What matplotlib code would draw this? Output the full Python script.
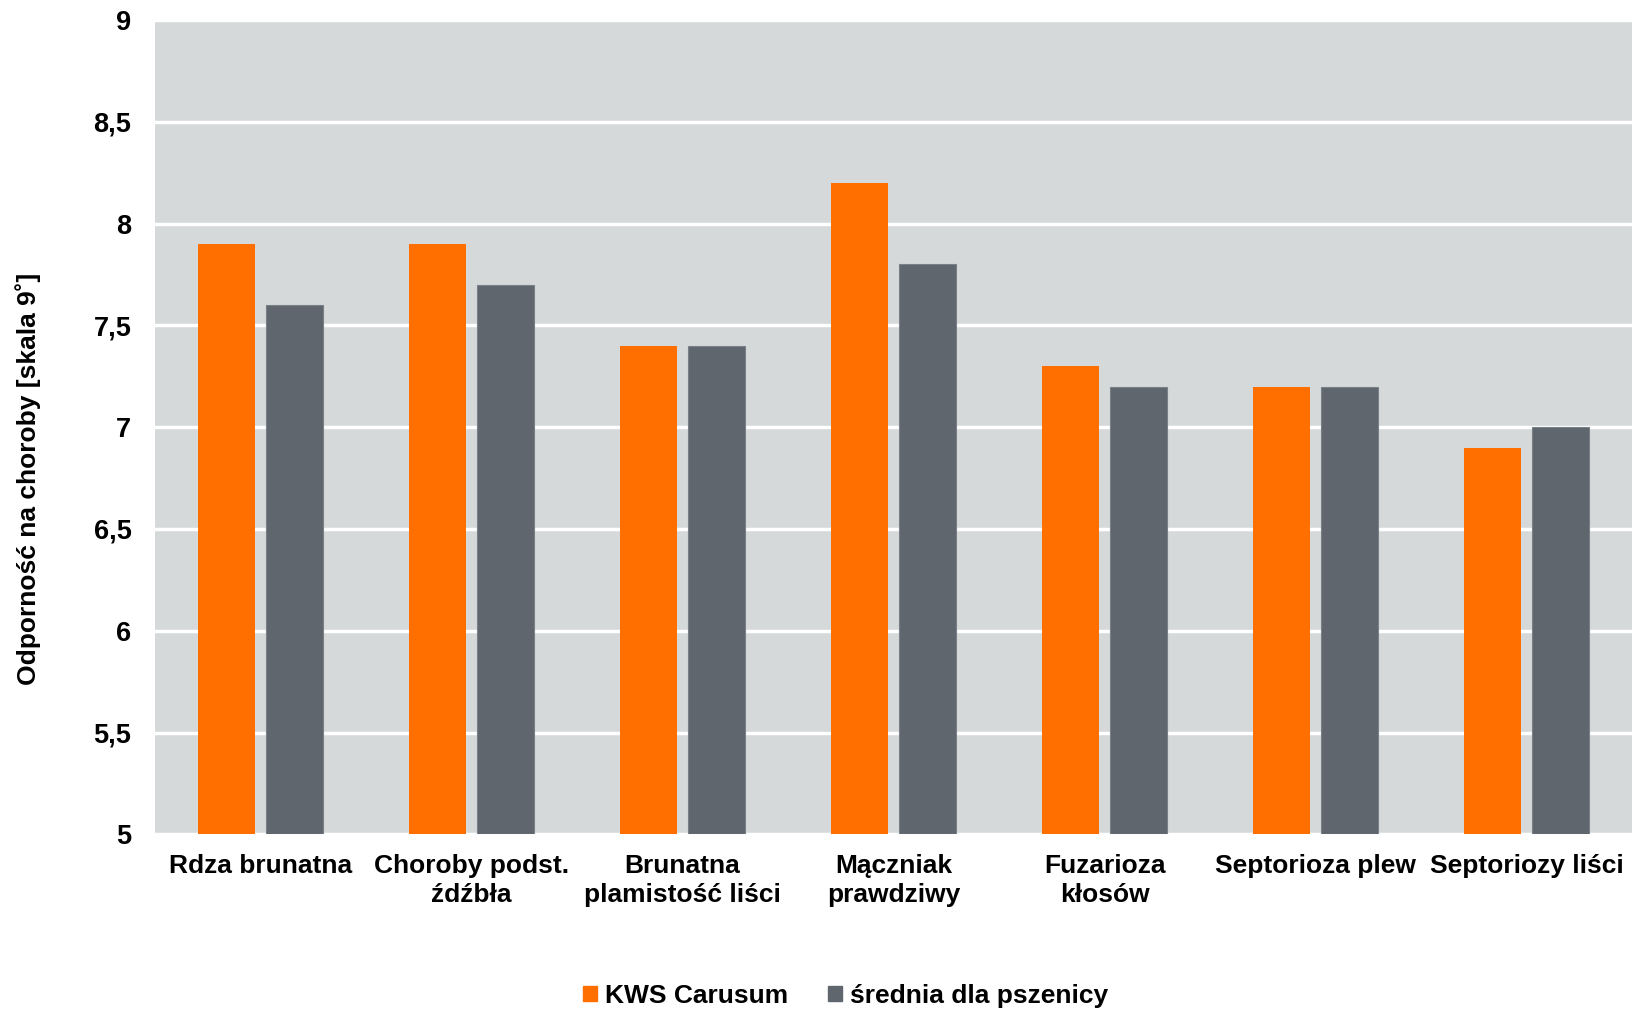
import numpy as np
import matplotlib.pyplot as plt
from matplotlib.patches import Patch

plt.rcParams['font.family'] = ['Liberation Sans', 'DejaVu Sans']
plt.rcParams['font.weight'] = 'bold'

# Data
categories = ['Rdza brunatna', 'Choroby podst.\nźdźbła', 'Brunatna\nplamistość liści',
              'Mączniak\nprawdziwy', 'Fuzarioza\nkłosów', 'Septorioza plew', 'Septoriozy liści']
kws_carusum = [7.9, 7.9, 7.4, 8.2, 7.3, 7.2, 6.9]
srednia = [7.6, 7.7, 7.4, 7.8, 7.2, 7.2, 7.0]
yticks = [5, 5.5, 6, 6.5, 7, 7.5, 8, 8.5, 9]
ytick_labels = ['5', '5,5', '6', '6,5', '7', '7,5', '8', '8,5', '9']

orange = '#FF6F00'
gray = '#5F666D'

fig = plt.figure(figsize=(16.32, 10.10), dpi=100)
ax = fig.add_axes([0.095, 0.174, 0.905, 0.806])
ax.set_facecolor('#D5D9DA')

x = np.arange(len(categories))
w = 0.27
off = 0.161
ax.bar(x - off, np.array(kws_carusum) - 5, w, bottom=5, color=orange, zorder=3)
ax.bar(x + off, np.array(srednia) - 5, w, bottom=5, color=gray,
       edgecolor='#7a8087', linewidth=0.8, zorder=3)

ax.set_xlim(-0.5, len(categories) - 0.5)
ax.set_ylim(5, 9)
ax.set_yticks(yticks)
ax.set_yticklabels(ytick_labels)
ax.yaxis.grid(True, color='white', linewidth=2.5, zorder=1)
ax.set_axisbelow(True)

ax.set_xticks(x)
ax.set_xticklabels(categories, fontsize=19, fontweight='bold', linespacing=1.28)
ax.tick_params(axis='x', length=0, pad=14)
ax.tick_params(axis='y', length=0, pad=17, labelsize=19.5)
for s in ax.spines.values():
    s.set_visible(False)

fig.text(0.017, 0.526, 'Odporność na choroby [skala 9˚]', rotation=90,
         ha='center', va='center', fontsize=19, fontweight='bold')

handles = [Patch(color=orange), Patch(color=gray)]
fig.legend(handles, ['KWS Carusum', 'średnia dla pszenicy'], loc='center',
           bbox_to_anchor=(0.518, 0.014), ncol=2, frameon=False, fontsize=19,
           handlelength=0.55, handleheight=0.55, handletextpad=0.3,
           columnspacing=1.5)

fig.savefig('out.png', dpi=100)
